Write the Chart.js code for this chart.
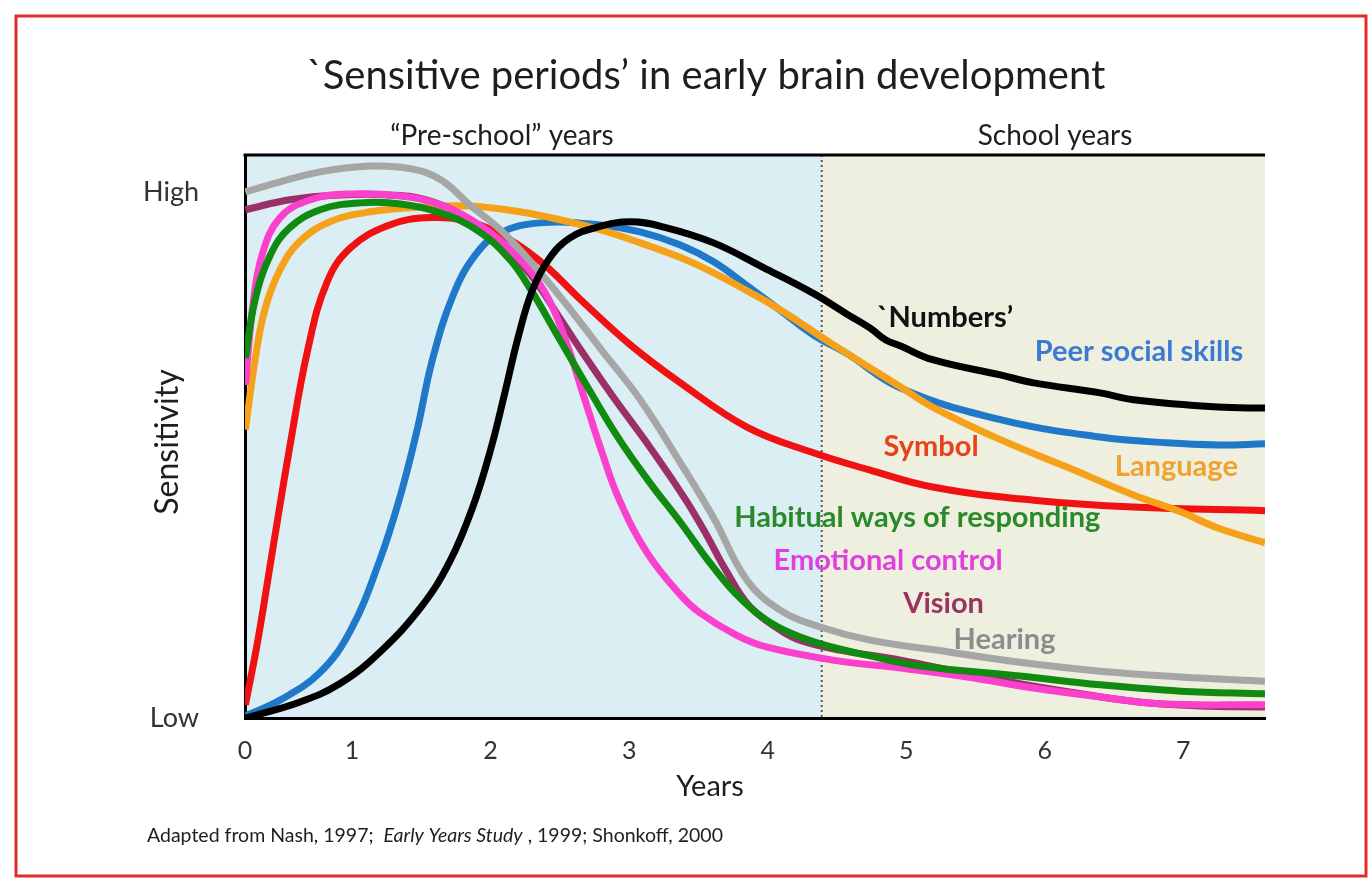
<!DOCTYPE html>
<html>
<head>
<meta charset="utf-8">
<title>Sensitive periods in early brain development</title>
<script src="https://cdn.jsdelivr.net/npm/chart.js@4.4.1/dist/chart.umd.min.js"></script>
<style>
  html, body { margin: 0; padding: 0; background: #fff; }
  #wrap { width: 1370px; height: 879px; }
</style>
</head>
<body>
<div id="wrap"><canvas id="brainChart" width="1370" height="879"></canvas></div>
<script>
// values: [years, sensitivity] (0 = Low, 1 = High)
const numbers = [[0.23,0],[0.62,0.03],[0.91,0.065],[1.20,0.125],[1.51,0.215],[1.71,0.30],[1.87,0.40],[2.00,0.51],[2.10,0.615],[2.20,0.725],[2.30,0.812],[2.42,0.872],[2.57,0.912],[2.77,0.933],[3.01,0.943],[3.25,0.933],[3.61,0.903],[3.97,0.856],[4.33,0.807],[4.57,0.768],[4.74,0.741],[4.85,0.719],[4.96,0.707],[5.19,0.681],[5.68,0.652],[5.92,0.637],[6.40,0.618],[6.64,0.605],[7.25,0.591],[7.59,0.589]];
const peerSocial = [[0.23,0.004],[0.48,0.034],[0.77,0.087],[0.99,0.167],[1.20,0.30],[1.35,0.424],[1.47,0.548],[1.58,0.681],[1.73,0.804],[1.89,0.88],[2.07,0.922],[2.36,0.941],[2.79,0.937],[3.08,0.924],[3.37,0.899],[3.61,0.867],[3.85,0.822],[4.09,0.775],[4.33,0.728],[4.57,0.693],[4.96,0.627],[5.68,0.567],[6.40,0.534],[6.88,0.523],[7.25,0.519],[7.59,0.521]];
const language = [[0.23,0.548],[0.30,0.681],[0.37,0.776],[0.48,0.852],[0.62,0.905],[0.84,0.943],[1.13,0.962],[1.49,0.971],[1.85,0.973],[2.21,0.962],[2.50,0.947],[2.79,0.928],[3.08,0.903],[3.37,0.875],[3.61,0.846],[3.85,0.812],[4.09,0.776],[4.47,0.71],[4.96,0.629],[5.19,0.591],[5.68,0.529],[6.16,0.477],[6.64,0.424],[6.98,0.392],[7.25,0.361],[7.59,0.333]];
const symbol = [[0.23,0.025],[0.32,0.148],[0.43,0.325],[0.55,0.515],[0.68,0.70],[0.82,0.829],[0.99,0.894],[1.27,0.937],[1.56,0.951],[1.85,0.943],[2.14,0.909],[2.39,0.861],[2.65,0.795],[3.01,0.709],[3.37,0.637],[3.85,0.553],[4.33,0.504],[4.74,0.471],[5.19,0.439],[5.92,0.414],[6.64,0.401],[7.59,0.394]];
const habitual = [[0.23,0.684],[0.30,0.795],[0.41,0.88],[0.55,0.932],[0.77,0.966],[1.06,0.979],[1.35,0.977],[1.64,0.96],[1.92,0.924],[2.14,0.871],[2.29,0.814],[2.50,0.719],[2.72,0.62],[2.93,0.529],[3.15,0.447],[3.37,0.372],[3.58,0.296],[3.77,0.236],[3.97,0.19],[4.16,0.162],[4.38,0.141],[4.74,0.118],[5.10,0.099],[5.82,0.08],[6.40,0.063],[6.98,0.051],[7.59,0.046]];
const emotional = [[0.23,0.633],[0.28,0.776],[0.35,0.88],[0.48,0.951],[0.70,0.985],[0.99,0.996],[1.35,0.992],[1.64,0.975],[1.92,0.937],[2.18,0.88],[2.39,0.81],[2.54,0.719],[2.68,0.605],[2.81,0.50],[2.93,0.414],[3.13,0.314],[3.37,0.234],[3.51,0.20],[3.77,0.158],[3.99,0.135],[4.47,0.11],[4.96,0.095],[5.44,0.078],[5.92,0.057],[6.40,0.04],[6.83,0.027],[7.59,0.025]];
const vision = [[0.23,0.966],[0.55,0.985],[0.91,0.994],[1.27,0.994],[1.56,0.983],[1.85,0.947],[2.07,0.905],[2.29,0.842],[2.50,0.76],[2.65,0.70],[2.88,0.612],[3.13,0.522],[3.40,0.418],[3.55,0.352],[3.70,0.28],[3.87,0.212],[4.09,0.167],[4.23,0.148],[4.52,0.129],[4.96,0.11],[5.39,0.087],[5.82,0.065],[6.26,0.046],[6.69,0.03],[7.12,0.023],[7.59,0.021]];
const hearing = [[0.23,1.0],[0.48,1.019],[0.77,1.038],[1.13,1.049],[1.42,1.044],[1.64,1.023],[1.85,0.975],[2.07,0.928],[2.29,0.867],[2.52,0.795],[2.79,0.703],[3.08,0.605],[3.37,0.485],[3.61,0.38],[3.85,0.262],[4.09,0.205],[4.38,0.173],[4.74,0.148],[5.32,0.125],[5.82,0.106],[6.40,0.089],[6.98,0.078],[7.59,0.07]];

const xTickValues = [0.227, 1, 2, 3, 4, 5, 6, 7];
const xTickLabels = ['0', '1', '2', '3', '4', '5', '6', '7'];
const yTickValues = [0, 1];
const yTickLabels = ['Low', 'High'];
const xMin = 0.227, xMax = 7.59, yMax = 1.07;
const schoolStart = 4.39;

// where each curve name sits, in chart units
const curveLabels = [
  { text: '`Numbers\u2019', color: '#111111', x: 5.28, y: 0.76 },
  { text: 'Peer social skills', color: '#3c7bd4', x: 6.68, y: 0.696 },
  { text: 'Symbol', color: '#e8421c', x: 5.18, y: 0.515 },
  { text: 'Language', color: '#efa22e', x: 6.95, y: 0.477 },
  { text: 'Habitual ways of responding', color: '#2a8a2a', x: 5.08, y: 0.38 },
  { text: 'Emotional control', color: '#e23ee0', x: 4.87, y: 0.30 },
  { text: 'Vision', color: '#99335f', x: 5.27, y: 0.217 },
  { text: 'Hearing', color: '#8c8c8c', x: 5.71, y: 0.148 }
];

const FONT = 'Lato, "Open Sans", sans-serif';

function pts(arr) {
  return arr.map(([x, y]) => ({ x: x, y: y }));
}

function line(label, arr, color) {
  return {
    label: label,
    data: pts(arr),
    borderColor: color,
    borderWidth: 7,
    pointRadius: 0,
    fill: false,
    tension: 0.4
  };
}

const decorPlugin = {
  id: 'decor',
  beforeDraw(chart) {
    const { ctx, chartArea: a, scales: { x } } = chart;
    const split = x.getPixelForValue(schoolStart);
    ctx.save();

    // red frame around the slide
    ctx.strokeStyle = '#e22b2b';
    ctx.lineWidth = 3;
    ctx.strokeRect(16, 16, 1350, 860);

    // two period backgrounds
    ctx.fillStyle = '#dbeef4';
    ctx.fillRect(a.left, a.top, split - a.left, a.bottom - a.top);
    ctx.fillStyle = '#eeefdf';
    ctx.fillRect(split, a.top, a.right - split, a.bottom - a.top);

    // dotted divider
    ctx.strokeStyle = '#555';
    ctx.lineWidth = 2;
    ctx.setLineDash([2, 3]);
    ctx.beginPath();
    ctx.moveTo(split, a.top);
    ctx.lineTo(split, a.bottom);
    ctx.stroke();
    ctx.setLineDash([]);

    // top border
    ctx.strokeStyle = '#000';
    ctx.lineWidth = 3;
    ctx.beginPath();
    ctx.moveTo(a.left - 1.5, a.top);
    ctx.lineTo(a.right, a.top);
    ctx.stroke();

    // texts
    ctx.fillStyle = '#1e1e1e';
    ctx.textBaseline = 'middle';
    ctx.textAlign = 'center';
    ctx.font = '40px ' + FONT;
    ctx.fillText('`Sensitive periods\u2019 in early brain development', 706, 76);
    ctx.font = '28px ' + FONT;
    ctx.fillText('\u201CPre-school\u201D years', 502, 136);
    ctx.fillText('School years', 1055, 136);
    ctx.font = '29px ' + FONT;
    ctx.fillText('Years', 710, 787);

    ctx.save();
    ctx.translate(168, 442);
    ctx.rotate(-Math.PI / 2);
    ctx.font = '32px ' + FONT;
    ctx.fillText('Sensitivity', 0, 0);
    ctx.restore();

    // source note with italic title
    ctx.textAlign = 'left';
    const parts = [
      ['Adapted from Nash, 1997;  ', 'normal'],
      ['Early Years Study', 'italic'],
      [' , 1999; Shonkoff, 2000', 'normal']
    ];
    let cx = 147;
    parts.forEach(([t, style]) => {
      ctx.font = style + ' 19.5px ' + FONT;
      ctx.fillText(t, cx, 836);
      cx += ctx.measureText(t).width;
    });
    ctx.restore();
  },
  afterDatasetsDraw(chart) {
    const { ctx, scales: { x, y } } = chart;
    ctx.save();
    ctx.font = 'bold 29px ' + FONT;
    ctx.textAlign = 'center';
    ctx.textBaseline = 'middle';
    curveLabels.forEach(l => {
      ctx.fillStyle = l.color;
      ctx.fillText(l.text, x.getPixelForValue(l.x), y.getPixelForValue(l.y));
    });
    ctx.restore();
  }
};

new Chart(document.getElementById('brainChart'), {
  type: 'line',
  data: {
    datasets: [
      line('`Numbers\'', numbers, '#000000'),
      line('Hearing', hearing, '#a6a6a6'),
      line('Habitual ways of responding', habitual, '#118a11'),
      line('Emotional control', emotional, '#fa40cc'),
      line('Vision', vision, '#9b3068'),
      line('Language', language, '#f6a11a'),
      line('Symbol', symbol, '#f01212'),
      line('Peer social skills', peerSocial, '#1f78c8')
    ]
  },
  options: {
    responsive: false,
    animation: false,
    layout: { padding: { left: 0, top: 155, right: 105, bottom: 101 } },
    plugins: {
      legend: { display: false },
      tooltip: { enabled: false }
    },
    scales: {
      x: {
        type: 'linear',
        min: xMin,
        max: xMax,
        grid: { display: false, drawTicks: false },
        border: { display: true, color: '#000', width: 3 },
        afterBuildTicks: s => { s.ticks = xTickValues.map(v => ({ value: v })); },
        afterFit: s => { s.height = 60; },
        ticks: {
          autoSkip: false,
          maxRotation: 0,
          padding: 18,
          color: '#333',
          font: { family: FONT, size: 25 },
          callback: (v, i) => xTickLabels[i]
        }
      },
      y: {
        min: 0,
        max: yMax,
        grid: { display: false, drawTicks: false },
        border: { display: true, color: '#000', width: 3 },
        afterBuildTicks: s => { s.ticks = yTickValues.map(v => ({ value: v })); },
        afterFit: s => { s.width = 245; },
        ticks: {
          padding: 46,
          color: '#333',
          font: { family: FONT, size: 27 },
          callback: (v, i) => yTickLabels[i]
        }
      }
    }
  },
  plugins: [decorPlugin]
});
</script>
</body>
</html>
